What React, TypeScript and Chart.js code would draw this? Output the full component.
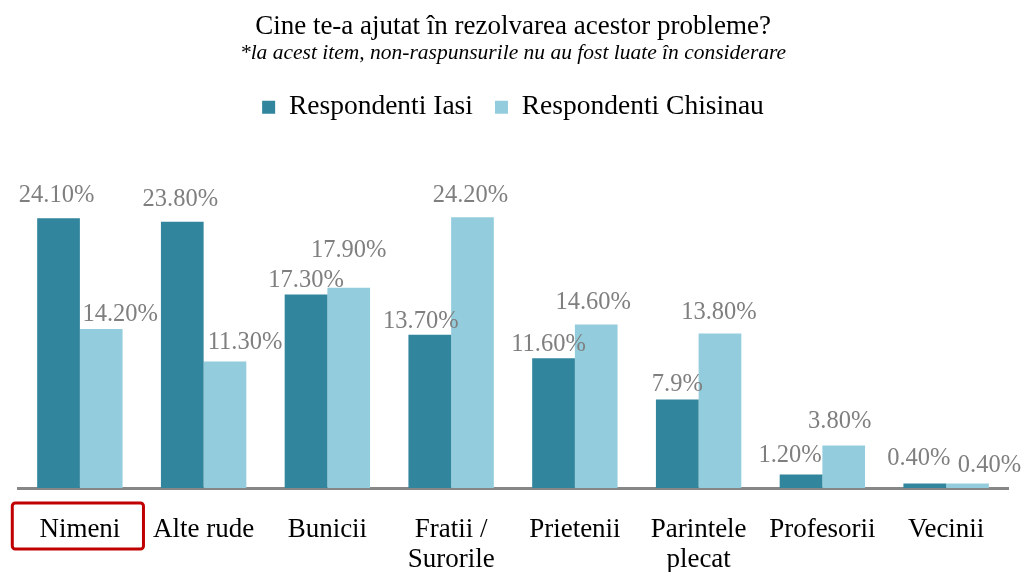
import React, { useEffect, useRef } from "react";
import { Chart, registerables } from "chart.js";

Chart.register(...registerables);

const FONT = "'Liberation Serif', 'Times New Roman', serif";

const titleText = "Cine te-a ajutat în rezolvarea acestor probleme?";
const subtitleText = "*la acest item, non-raspunsurile nu au fost luate în considerare";

const categories = [
  ["Nimeni"],
  ["Alte rude"],
  ["Bunicii"],
  ["Fratii /", "Surorile"],
  ["Prietenii"],
  ["Parintele", "plecat"],
  ["Profesorii"],
  ["Vecinii"],
];

const seriesNames = ["Respondenti Iasi", "Respondenti Chisinau"];
const iasiValues = [24.1, 23.8, 17.3, 13.7, 11.6, 7.9, 1.2, 0.4];
const chisinauValues = [14.2, 11.3, 17.9, 24.2, 14.6, 13.8, 3.8, 0.4];
const iasiLabels = ["24.10%", "23.80%", "17.30%", "13.70%", "11.60%", "7.9%", "1.20%", "0.40%"];
const chisinauLabels = ["14.20%", "11.30%", "17.90%", "24.20%", "14.60%", "13.80%", "3.80%", "0.40%"];

// label nudges (dx, dy in px) relative to the default spot above each bar
const iasiNudge = [[-2, -2], [-2, -2], [0, 7], [-9, 7], [-5, 7], [0, 5], [-11, 1], [-6, -5]];
const chisinauNudge = [[19, 6], [20, 1], [0, -17], [-2, -1], [-3, -2], [-1, -1], [-4, -3], [22, 2]];

const DARK = "#31859C";
const LIGHT = "#93CDDD";

const valueLabels = {
  id: "valueLabels",
  afterDatasetsDraw(chart: any) {
    const ctx = chart.ctx;
    ctx.save();
    ctx.font = `24.5px ${FONT}`;
    ctx.fillStyle = "#7F7F7F";
    ctx.textAlign = "center";
    ctx.textBaseline = "alphabetic";
    chart.data.datasets.forEach((_ds: any, di: number) => {
      const meta = chart.getDatasetMeta(di);
      const texts = di === 0 ? iasiLabels : chisinauLabels;
      const nudges = di === 0 ? iasiNudge : chisinauNudge;
      meta.data.forEach((el: any, i: number) => {
        const [dx, dy] = nudges[i];
        ctx.fillText(texts[i], el.x + dx, el.y - 14 + dy);
      });
    });
    ctx.restore();
  },
};

const highlightBox = {
  id: "highlightBox",
  afterDraw(chart: any) {
    const ctx = chart.ctx;
    const xs = chart.scales.x;
    const c0 = xs.getPixelForValue(0);
    const step = xs.getPixelForValue(1) - c0;
    const w = step * 1.06;
    const top = chart.chartArea.bottom + 15;
    ctx.save();
    ctx.strokeStyle = "#C00000";
    ctx.lineWidth = 3;
    ctx.beginPath();
    (ctx as any).roundRect(c0 - w / 2 - 2, top, w, 46, 3);
    ctx.stroke();
    ctx.restore();
  },
};

export default function App() {
  const ref = useRef<HTMLCanvasElement | null>(null);

  useEffect(() => {
    if (!ref.current) return;
    const chart = new Chart(ref.current, {
      type: "bar",
      data: {
        labels: categories,
        datasets: [
          {
            label: seriesNames[0],
            data: iasiValues,
            backgroundColor: DARK,
            categoryPercentage: 0.69,
            barPercentage: 1,
          },
          {
            label: seriesNames[1],
            data: chisinauValues,
            backgroundColor: LIGHT,
            categoryPercentage: 0.69,
            barPercentage: 1,
          },
        ],
      },
      options: {
        responsive: false,
        animation: false,
        layout: { padding: { left: 18, right: 13, top: 0, bottom: 0 } },
        plugins: {
          title: {
            display: true,
            text: titleText,
            color: "#000",
            font: { family: FONT, size: 27, weight: "normal", lineHeight: 1 },
            padding: { top: 13, bottom: 0 },
          },
          subtitle: {
            display: true,
            text: subtitleText,
            color: "#000",
            font: { family: FONT, size: 21.5, style: "italic", weight: "normal", lineHeight: 1 },
            padding: { top: 3, bottom: 7 },
          },
          legend: {
            display: true,
            position: "top",
            labels: {
              color: "#000",
              boxWidth: 13,
              boxHeight: 13,
              padding: 22,
              font: { family: FONT, size: 27.5 },
            },
          },
          tooltip: { enabled: false },
        },
        scales: {
          x: {
            grid: { display: false },
            border: { display: true, color: "#878787", width: 3 },
            ticks: {
              color: "#000",
              font: { family: FONT, size: 27, lineHeight: 1.11 },
              padding: 19,
              maxRotation: 0,
              autoSkip: false,
            },
            afterFit(scale: any) {
              scale.height = 84;
            },
          },
          y: {
            display: false,
            min: 0,
            max: 31.9,
          },
        },
      },
      plugins: [valueLabels, highlightBox],
    } as any);
    return () => chart.destroy();
  }, []);

  return (
    <div style={{ position: "absolute", left: 0, top: 0, width: 1021, height: 572, background: "#fff" }}>
      <canvas ref={ref} width={1021} height={572} />
    </div>
  );
}
